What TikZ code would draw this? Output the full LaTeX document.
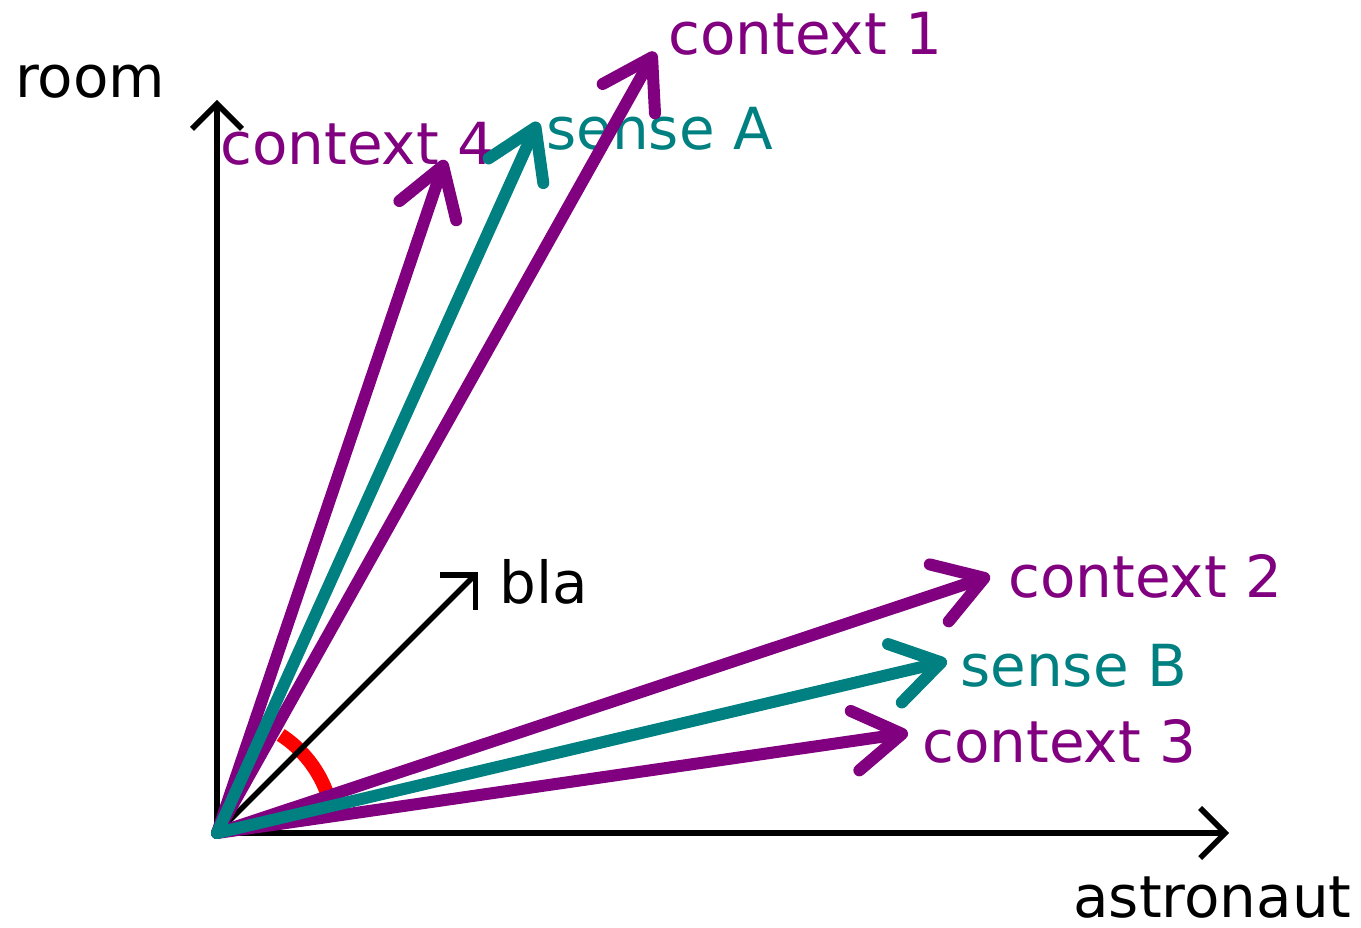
\documentclass[tikz,border=0pt]{standalone}
\usepackage{fontspec}
\setmainfont{DejaVu Sans}
\usetikzlibrary{arrows.meta}
\definecolor{ctxpurple}{RGB}{128,0,128}
\definecolor{senseteal}{RGB}{0,128,128}

\begin{document}
\begin{tikzpicture}[
		x=0.02cm,
		y=0.02cm,
		axis/.style={
				line width=0.11cm,
				-{Straight Barb[length=0.5cm, width=1cm]}
			},
		vec/.style={
				line width=0.24cm,
				line cap=round,
				-{Straight Barb[length=0.95cm, width=1.2cm, round]}
			},
		every node/.style={
				inner sep=0pt,
				anchor=base west,
				text depth=0pt,
				font=\fontsize{33}{40}\selectfont
			}
	]
	\useasboundingbox (-217,-94) rectangle (1144,833);

	% origin and arrow ends
	\coordinate (o) at (0,0);
	\coordinate (ty) at (0,733);
	\coordinate (tx) at (1012,0);
	\coordinate (tbla) at (261,261);
	\coordinate (tc1) at (438,781);
	\coordinate (tsA) at (321,711);
	\coordinate (tc4) at (228,673);
	\coordinate (tc2) at (773,257);
	\coordinate (tsB) at (730,172);
	\coordinate (tc3) at (691,100);

	% labels
	\node (room) at (-202,735) {room};
	\node (astro) at (856,-84) {astronaut};
	\node (bla) at (282,230) {bla};
	\node[text=ctxpurple] (c1) at (451,778) {context 1};
	\node[text=senseteal] (sA) at (329,683) {sense A};
	\node[text=ctxpurple] (c4) at (3,668) {context 4};
	\node[text=ctxpurple] (c2) at (791,236) {context 2};
	\node[text=senseteal] (sB) at (743,147) {sense B};
	\node[text=ctxpurple] (c3) at (705,71) {context 3};

	% angle between the two groups
	\draw[red, line width=0.28cm] (o) ++(57:2.34cm) arc[start angle=57, end angle=19, radius=2.34cm];

	\draw[axis] (o) -- (ty);
	\draw[axis] (o) -- (tx);
	\draw[axis] (o) -- (tbla);

	\draw[vec, ctxpurple] (o) -- (tc1);
	\draw[vec, ctxpurple] (o) -- (tc4);
	\draw[vec, ctxpurple] (o) -- (tc2);
	\draw[vec, ctxpurple] (o) -- (tc3);
	\draw[vec, senseteal] (o) -- (tsA);
	\draw[vec, senseteal] (o) -- (tsB);

\end{tikzpicture}
\end{document}
